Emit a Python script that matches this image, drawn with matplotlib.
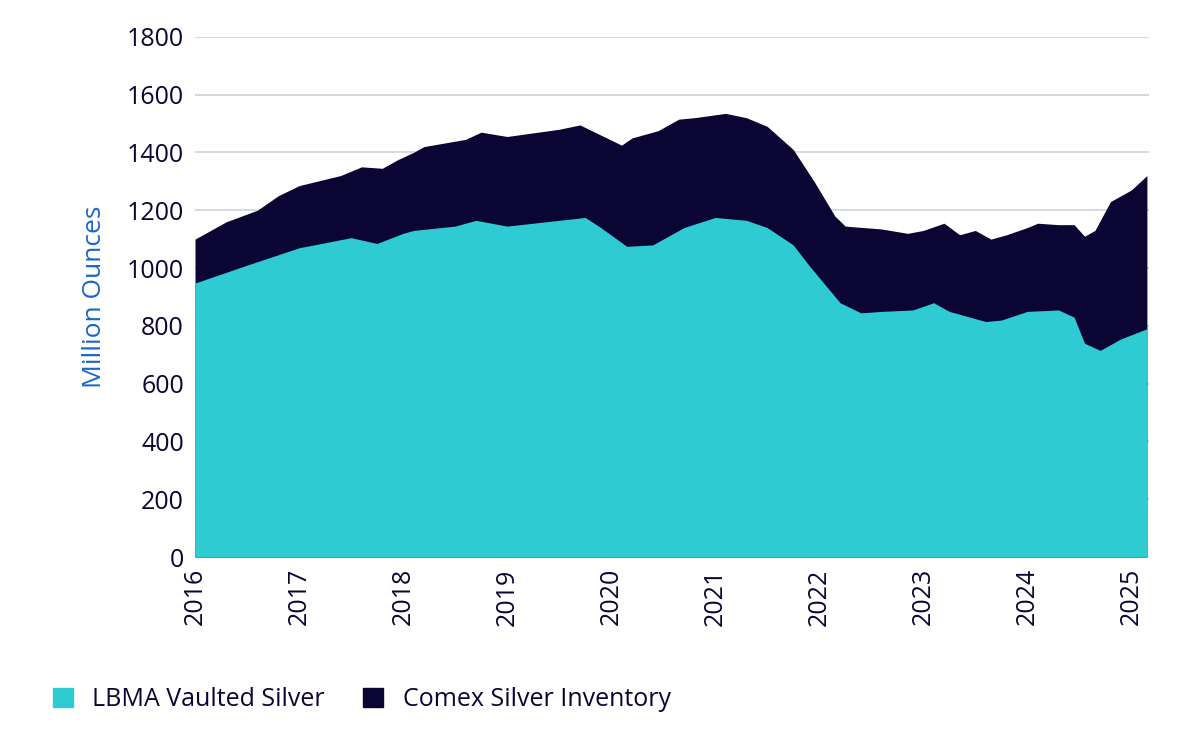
import numpy as np
import matplotlib
matplotlib.use("Agg")
import matplotlib.pyplot as plt
from matplotlib.patches import Patch

# LBMA vaulted silver (million oz)
lbma_t = [2016.0, 2016.5, 2017.0, 2017.5, 2017.75, 2018.0, 2018.1, 2018.5, 2018.7, 2019.0,
          2019.5, 2019.75, 2019.9, 2020.15, 2020.4, 2020.7, 2021.0, 2021.3, 2021.5, 2021.75,
          2021.9, 2022.2, 2022.4, 2022.6, 2022.9, 2023.1, 2023.25, 2023.6, 2023.75, 2024.0,
          2024.3, 2024.45, 2024.55, 2024.7, 2024.9, 2025.15]
lbma_v = [948, 1010, 1070, 1105, 1085, 1120, 1130, 1145, 1165, 1145,
          1165, 1175, 1140, 1075, 1080, 1140, 1175, 1165, 1140, 1080,
          1010, 880, 845, 850, 855, 880, 850, 815, 820, 850,
          855, 830, 740, 715, 755, 790]

# LBMA + Comex total
total_t = [2016.0, 2016.3, 2016.6, 2016.8, 2017.0, 2017.4, 2017.6, 2017.8, 2017.95, 2018.1,
           2018.2, 2018.6, 2018.75, 2019.0, 2019.5, 2019.7, 2019.9, 2020.1, 2020.2, 2020.45,
           2020.65, 2020.8, 2021.0, 2021.1, 2021.3, 2021.5, 2021.75, 2021.95, 2022.15, 2022.25,
           2022.6, 2022.85, 2023.0, 2023.2, 2023.35, 2023.5, 2023.65, 2023.8, 2024.0, 2024.1,
           2024.3, 2024.45, 2024.55, 2024.65, 2024.8, 2025.0, 2025.15]
total_v = [1100, 1160, 1200, 1250, 1285, 1320, 1350, 1345, 1375, 1400,
           1420, 1445, 1470, 1455, 1480, 1495, 1460, 1425, 1450, 1475,
           1515, 1520, 1530, 1535, 1520, 1490, 1410, 1300, 1180, 1145,
           1135, 1120, 1130, 1155, 1115, 1130, 1100, 1115, 1140, 1155,
           1150, 1150, 1110, 1130, 1230, 1270, 1320]

years = list(range(2016, 2026))
teal = "#2ECBD3"
navy = "#0B0534"

plt.rcParams['font.family'] = ['Open Sans', 'DejaVu Sans']
fig = plt.figure(figsize=(12, 7.35), dpi=100)
ax = fig.add_axes([0.1625, 0.242, 0.795, 0.708])

ax.fill_between(total_t, 0, total_v, color=navy, lw=0, zorder=2)
ax.fill_between(lbma_t, 0, lbma_v, color=teal, lw=0, zorder=3)

ax.set_ylim(0, 1800)
ax.set_xlim(2016, 2025.17)
ax.set_yticks(range(0, 1801, 200))
ax.set_xticks(years)
ax.set_xticklabels([str(y) for y in years], rotation=90)
ax.tick_params(axis='both', length=0, labelsize=18, colors=navy, pad=8)
ax.grid(axis='y', color='#C9D3DD', lw=1.2, zorder=0)
for s in ax.spines.values():
    s.set_visible(False)
ax.set_ylabel("Million Ounces", color="#1A66C9", fontsize=19, labelpad=14)

handles = [Patch(color=teal), Patch(color=navy)]
fig.legend(handles, ["LBMA Vaulted Silver", "Comex Silver Inventory"], loc='lower left',
           bbox_to_anchor=(0.025, 0.0), ncol=2, frameon=False, fontsize=18,
           handlelength=0.8, handleheight=0.8, columnspacing=1.5, labelcolor=navy)

plt.savefig("out.png", dpi=100)
